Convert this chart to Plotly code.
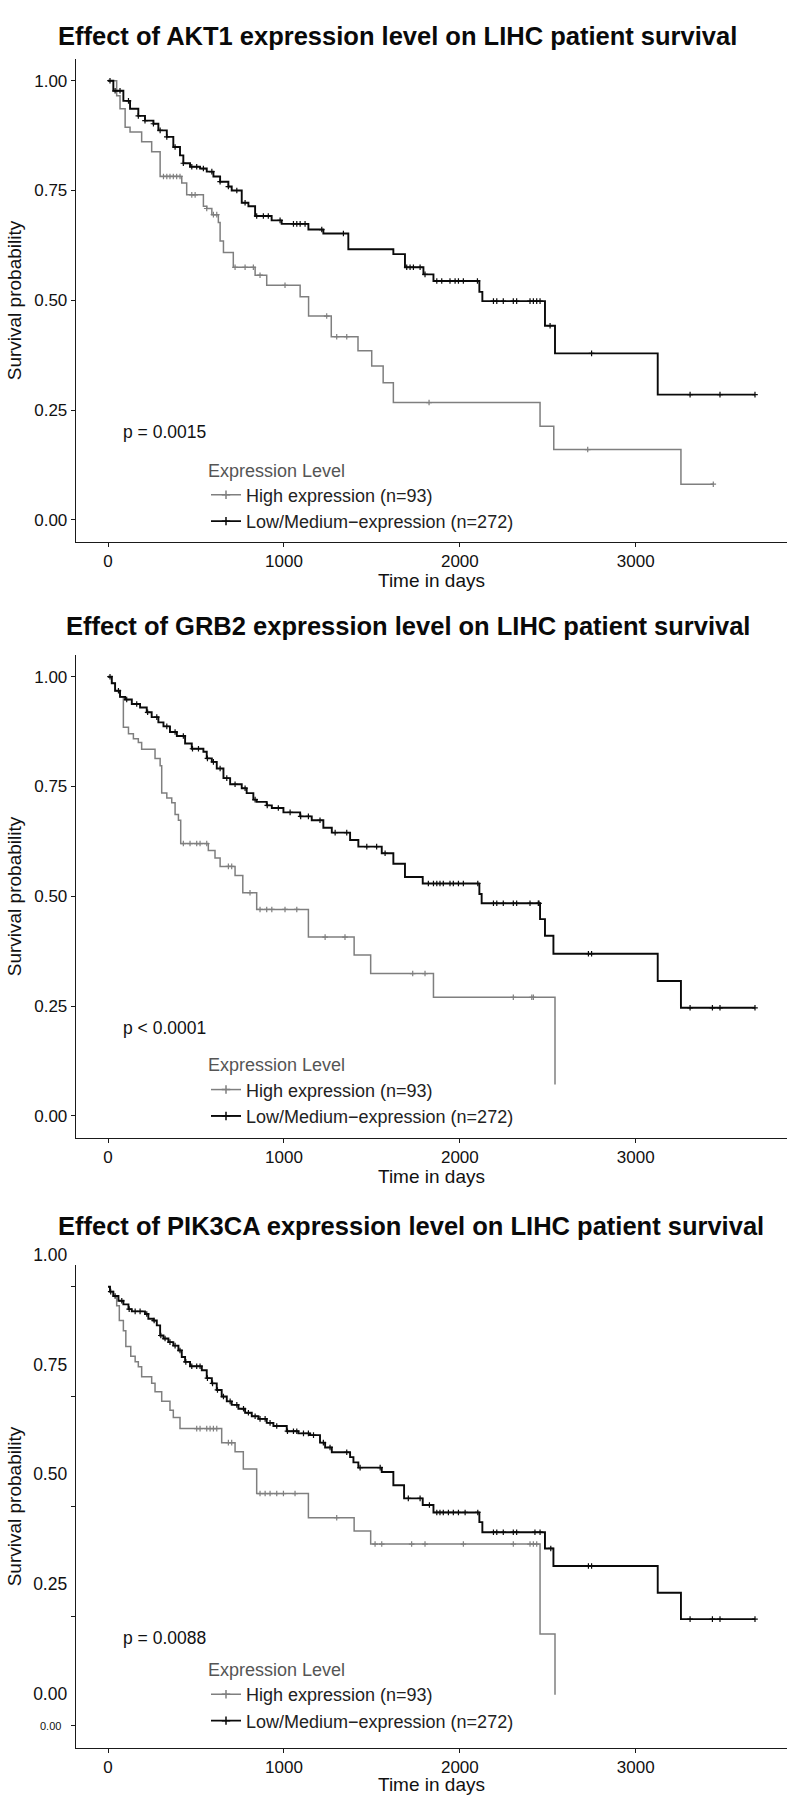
import plotly.graph_objects as go
from bisect import bisect_right

# ---------------- data ----------------
GENES = ["AKT1", "GRB2", "PIK3CA"]
P_VALUES = ["p = 0.0015", "p < 0.0001", "p = 0.0088"]
SERIES_NAMES = ["High expression (n=93)", "Low/Medium\u2212expression (n=272)"]
X_TICKS = [0, 1000, 2000, 3000]
Y_TICKS = [0, 0.25, 0.5, 0.75, 1.0]
Y_TICK_TEXT = ["0.00", "0.25", "0.50", "0.75", "1.00"]

# AKT1
akt1_high_t = [0, 49, 68, 97, 125, 191, 248, 296, 419, 447, 542, 561, 590, 627, 637, 656, 712, 836, 902, 1092,
               1140, 1269, 1421, 1499, 1564, 1622, 2456, 2534, 3257]
akt1_high_s = [1.0, 0.966, 0.936, 0.894, 0.883, 0.861, 0.838, 0.782, 0.767, 0.740, 0.714, 0.709, 0.695, 0.677, 0.635,
               0.609, 0.575, 0.557, 0.534, 0.508, 0.464, 0.417, 0.385, 0.350, 0.312, 0.267, 0.213, 0.160, 0.081]
akt1_high_c = [315, 334, 352, 371, 390, 409, 476, 495, 561, 599, 618, 722, 779, 826, 864, 1006, 1243, 1300, 1357,
               1825, 2727, 3441]
akt1_low_t = [0, 30, 87, 125, 172, 210, 258, 286, 334, 371, 409, 428, 466, 523, 561, 599, 637, 684, 703, 760,
              798, 836, 930, 987, 1139, 1224, 1366, 1622, 1688, 1793, 1850, 2111, 2128, 2484, 2541, 3125]
akt1_low_s = [1.0, 0.977, 0.954, 0.936, 0.920, 0.909, 0.902, 0.887, 0.872, 0.849, 0.830, 0.812, 0.804, 0.800, 0.793,
              0.782, 0.770, 0.759, 0.750, 0.722, 0.714, 0.692, 0.682, 0.674, 0.661, 0.652, 0.616, 0.605, 0.575, 0.559,
              0.544, 0.519, 0.498, 0.442, 0.379, 0.285]
akt1_low_c = [11, 40, 68, 116, 172, 210, 258, 296, 334, 381, 428, 476, 504, 542, 590, 637, 684, 732, 779, 845, 883,
              911, 978, 1054, 1073, 1092, 1120, 1215, 1338, 1698, 1717, 1736, 1774, 1802, 1869, 1897, 1944, 1973,
              1992, 2020, 2100, 2191, 2210, 2247, 2304, 2323, 2399, 2418, 2437, 2456, 2513, 2749, 3309, 3479, 3678]

# GRB2
grb2_high_t = [0, 21, 40, 68, 87, 116, 144, 172, 191, 267, 296, 305, 334, 362, 381, 400, 413, 570, 608, 637,
               722, 766, 845, 1139, 1399, 1493, 1850, 2541]
grb2_high_s = [1.0, 0.985, 0.968, 0.954, 0.885, 0.870, 0.859, 0.850, 0.835, 0.814, 0.797, 0.735, 0.724, 0.713, 0.686,
               0.673, 0.620, 0.604, 0.587, 0.568, 0.547, 0.508, 0.470, 0.407, 0.366, 0.324, 0.270, 0.071]
grb2_high_c = [428, 466, 504, 523, 561, 684, 703, 807, 864, 902, 931, 1006, 1073, 1234, 1347, 1732, 1802, 2304,
               2409, 2418]
grb2_low_t = [0, 21, 40, 68, 97, 135, 182, 220, 248, 286, 315, 352, 391, 438, 476, 542, 561, 590, 618, 656,
              694, 760, 788, 826, 845, 902, 931, 997, 1092, 1158, 1224, 1272, 1376, 1423, 1556, 1622, 1688, 1789,
              2111, 2124, 2456, 2484, 2532, 3125, 3257]
grb2_low_s = [1.0, 0.985, 0.968, 0.954, 0.948, 0.938, 0.930, 0.919, 0.908, 0.896, 0.887, 0.874, 0.865, 0.848, 0.836,
              0.829, 0.814, 0.806, 0.791, 0.769, 0.755, 0.746, 0.735, 0.720, 0.715, 0.707, 0.701, 0.691, 0.682, 0.673,
              0.656, 0.645, 0.628, 0.613, 0.598, 0.574, 0.544, 0.529, 0.505, 0.484, 0.448, 0.410, 0.369, 0.307, 0.246]
grb2_low_c = [11, 59, 106, 163, 225, 277, 334, 381, 428, 480, 514, 565, 599, 637, 675, 722, 779, 836, 905, 968,
              1035, 1095, 1139, 1205, 1291, 1357, 1471, 1527, 1575, 1821, 1850, 1869, 1887, 1906, 1944, 1963, 1992,
              2020, 2102, 2191, 2210, 2247, 2304, 2323, 2399, 2446, 2450, 2731, 2749, 3309, 3436, 3479, 3678]

# PIK3CA
pik3ca_high_t = [0, 11, 30, 49, 64, 87, 101, 129, 154, 172, 191, 248, 267, 305, 352, 371, 409, 646, 722, 769,
                 845, 1139, 1399, 1493, 2456, 2541]
pik3ca_high_s = [1.0, 0.989, 0.979, 0.957, 0.923, 0.900, 0.864, 0.842, 0.829, 0.818, 0.795, 0.780, 0.761, 0.739,
                 0.719, 0.702, 0.677, 0.645, 0.624, 0.585, 0.529, 0.474, 0.444, 0.414, 0.209, 0.071]
pik3ca_high_c = [504, 523, 561, 580, 599, 618, 684, 703, 864, 893, 921, 959, 997, 1063, 1300, 1518, 1556, 1726,
                 1802, 2020, 2304, 2399, 2418, 2437]
pik3ca_low_t = [0, 11, 30, 59, 87, 116, 135, 210, 229, 258, 277, 296, 315, 343, 371, 400, 419, 438, 466, 533,
                561, 590, 618, 646, 675, 703, 741, 779, 817, 855, 902, 940, 1016, 1082, 1148, 1205, 1234, 1272,
                1376, 1395, 1423, 1556, 1622, 1683, 1789, 1850, 2111, 2128, 2484, 2532, 3125, 3257]
pik3ca_low_s = [1.0, 0.989, 0.979, 0.968, 0.960, 0.949, 0.944, 0.938, 0.927, 0.923, 0.912, 0.889, 0.882, 0.874,
                0.866, 0.855, 0.840, 0.829, 0.819, 0.810, 0.792, 0.780, 0.765, 0.750, 0.739, 0.731, 0.722, 0.713,
                0.705, 0.699, 0.690, 0.683, 0.671, 0.666, 0.662, 0.645, 0.634, 0.623, 0.612, 0.600, 0.588, 0.578,
                0.548, 0.518, 0.503, 0.486, 0.464, 0.441, 0.404, 0.364, 0.303, 0.243]
pik3ca_low_c = [15, 40, 78, 120, 154, 182, 220, 262, 300, 324, 352, 381, 409, 442, 476, 504, 523, 565, 594, 622,
                656, 694, 732, 770, 798, 836, 864, 893, 921, 959, 1020, 1054, 1073, 1111, 1139, 1168, 1224, 1262,
                1357, 1433, 1547, 1707, 1774, 1827, 1869, 1887, 1906, 1935, 1963, 1992, 2030, 2102, 2191, 2210,
                2247, 2304, 2323, 2427, 2456, 2517, 2731, 2749, 3309, 3436, 3479, 3678]

CURVES = [
    ((akt1_high_t, akt1_high_s, akt1_high_c), (akt1_low_t, akt1_low_s, akt1_low_c)),
    ((grb2_high_t, grb2_high_s, grb2_high_c), (grb2_low_t, grb2_low_s, grb2_low_c)),
    ((pik3ca_high_t, pik3ca_high_s, pik3ca_high_c), (pik3ca_low_t, pik3ca_low_s, pik3ca_low_c)),
]

# ---------------- styling / layout ----------------
W, H = 791, 1800
FONT = "Liberation Sans, Arial, Helvetica, sans-serif"
COLORS = ["#7f7f7f", "#0a0a0a"]
WIDTHS = [1.5, 1.9]
AXIS_COLOR = "#1a1a1a"


def px(x):
    return x / W


def py(y):
    return 1 - y / H


X_DOMAIN = [px(75.7), px(787)]
PANEL_PX = [(39.2, 527.6), (641.9, 1130.3), (1258.8, 1747.2)]  # top, bottom of each plot area
TITLE_PX = [(397.5, 16), (408, 612.5), (411, 1219.5)]
LEGEND_CENTER_PX = [482, 1083.5, 1695]
XTITLE_OFFSET = [39, 39, 37]


def censor_points(times, surv, cens):
    cx, cy = [], []
    for c in cens:
        i = bisect_right(times, c) - 1
        cx.append(c)
        cy.append(surv[i])
    return cx, cy


fig = go.Figure()
annotations = []

for k in range(3):
    sfx = "" if k == 0 else str(k + 1)
    xref, yref = "x" + sfx, "y" + sfx
    legend_id = "legend" + sfx
    for j, (t, s, c) in enumerate(CURVES[k]):
        lx, ly = list(t), list(s)
        cx, cy = censor_points(t, s, c)
        # extend the line to the last censored time
        if cx and max(cx) > lx[-1]:
            lx = lx + [max(cx)]
            ly = ly + [ly[-1]]
        fig.add_trace(go.Scatter(x=lx, y=ly, mode="lines", line=dict(color=COLORS[j], width=WIDTHS[j], shape="hv"),
                                 xaxis=xref, yaxis=yref, showlegend=False, hoverinfo="skip"))
        fig.add_trace(go.Scatter(x=cx, y=cy, mode="markers",
                                 marker=dict(symbol="cross-thin", size=4, color=COLORS[j],
                                             line=dict(color=COLORS[j], width=1.2)),
                                 xaxis=xref, yaxis=yref, showlegend=False, hoverinfo="skip"))
        fig.add_trace(go.Scatter(x=[None], y=[None], mode="lines+markers", name=SERIES_NAMES[j],
                                 line=dict(color=COLORS[j], width=WIDTHS[j]),
                                 marker=dict(symbol="cross-thin", size=6, color=COLORS[j],
                                             line=dict(color=COLORS[j], width=1.5)),
                                 xaxis=xref, yaxis=yref, legend=legend_id, showlegend=True))

    top, bottom = PANEL_PX[k]
    xa = dict(domain=X_DOMAIN, range=[-184, 3860], tickvals=X_TICKS, ticktext=[str(v) for v in X_TICKS],
              showline=True, linecolor=AXIS_COLOR, linewidth=1, ticks="outside", ticklen=4, tickcolor=AXIS_COLOR,
              tickfont=dict(size=17, color="#111", family=FONT), showgrid=False, zeroline=False, anchor=yref,
              fixedrange=True)
    ya = dict(domain=[py(bottom), py(top)], range=[-0.05, 1.05], tickvals=Y_TICKS, ticktext=Y_TICK_TEXT,
              showline=True, linecolor=AXIS_COLOR, linewidth=1, ticks="outside", ticklen=4, tickcolor=AXIS_COLOR,
              tickfont=dict(size=17, color="#111", family=FONT), showgrid=False, zeroline=False, anchor=xref,
              fixedrange=True)
    if k == 2:
        ya["ticklabelshift"] = -32
        ya["tickfont"] = dict(size=17.5, color="#111", family=FONT)
        annotations.append(dict(text="0.00", x=px(63), xref="paper", xanchor="right", y=0, yref=yref,
                                yanchor="middle", showarrow=False, font=dict(size=11, color="#111", family=FONT)))
    fig.update_layout({"xaxis" + sfx: xa, "yaxis" + sfx: ya})

    # panel title
    tx, ty = TITLE_PX[k]
    annotations.append(dict(text="<b>Effect of %s expression level on LIHC patient survival</b>" % GENES[k],
                            x=px(tx), y=py(ty), xref="paper", yref="paper", xanchor="center", yanchor="middle",
                            showarrow=False, font=dict(size=25.5, color="#0a0a0a", family=FONT)))
    # axis titles
    annotations.append(dict(text="Time in days", x=px((75.7 + 787) / 2), y=py(bottom + XTITLE_OFFSET[k]),
                            xref="paper", yref="paper", xanchor="center", yanchor="middle", showarrow=False,
                            font=dict(size=19, color="#111", family=FONT)))
    annotations.append(dict(text="Survival probability", x=px(14), y=py((top + bottom) / 2), xref="paper",
                            yref="paper", xanchor="center", yanchor="middle", textangle=-90, showarrow=False,
                            font=dict(size=19, color="#111", family=FONT)))
    # p-value
    annotations.append(dict(text=P_VALUES[k], x=max(CURVES[k][1][2]) / 50, y=0.2, xref=xref, yref=yref,
                            xanchor="left", yanchor="middle", showarrow=False,
                            font=dict(size=17.5, color="#111", family=FONT)))

    fig.update_layout({legend_id: dict(x=px(206), xanchor="left", y=py(LEGEND_CENTER_PX[k]), yanchor="middle",
                                       bgcolor="rgba(255,255,255,0)", borderwidth=0,
                                       font=dict(size=18, color="#222", family=FONT),
                                       title=dict(text="Expression Level",
                                                  font=dict(size=18, color="#555", family=FONT)),
                                       itemwidth=30, tracegroupgap=0, traceorder="normal")})

fig.update_layout(width=W, height=H, margin=dict(l=0, r=0, t=0, b=0), paper_bgcolor="white",
                  plot_bgcolor="white", showlegend=True, annotations=annotations,
                  font=dict(family=FONT, color="#111"))

fig.write_html("out.html", config={"displayModeBar": False, "staticPlot": True},
               post_script="document.body.style.margin='0';document.body.style.overflow='hidden';")
